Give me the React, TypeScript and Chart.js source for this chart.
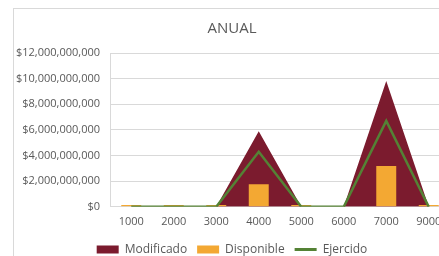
import React, { useEffect, useRef } from "react";
import { Chart, registerables } from "chart.js";

Chart.register(...registerables);

const categories = ["1000", "2000", "3000", "4000", "5000", "6000", "7000", "9000"];
const modificado = [0, 0, 0, 5.9e9, 0, 0, 9.82e9, 0];
const disponible = [0.15e9, 0.15e9, 0.15e9, 1.75e9, 0.15e9, 0, 3.18e9, 0.15e9];
const ejercido = [0, 0, 0, 4.3e9, 0, 0, 6.7e9, 0];
const yTicks = [0, 2e9, 4e9, 6e9, 8e9, 10e9, 12e9];

const MAROON = "#7B1B2E";
const ORANGE = "#F3A833";
const GREEN = "#548235";
const TEXT = "#595959";
const GRID = "#d9d9d9";
const FONT = "'Open Sans', sans-serif";

export default function App() {
  const ref = useRef<HTMLCanvasElement | null>(null);

  useEffect(() => {
    if (!ref.current) return;
    const chart = new Chart(ref.current, {
      type: "bar",
      data: {
        labels: categories,
        datasets: [
          {
            type: "line",
            label: "Modificado",
            data: modificado,
            backgroundColor: MAROON,
            borderColor: MAROON,
            borderWidth: 0,
            pointRadius: 0,
            fill: "origin",
            tension: 0,
            order: 2,
          } as any,
          {
            type: "bar",
            label: "Disponible",
            data: disponible,
            backgroundColor: ORANGE,
            borderWidth: 0,
            categoryPercentage: 0.47,
            barPercentage: 1,
            order: 1,
          },
          {
            type: "line",
            label: "Ejercido",
            data: ejercido,
            borderColor: GREEN,
            backgroundColor: GREEN,
            borderWidth: 2.5,
            pointRadius: 0,
            fill: false,
            tension: 0,
            order: 0,
          } as any,
        ],
      },
      options: {
        animation: false,
        responsive: false,
        maintainAspectRatio: false,
        layout: { padding: { left: 0, right: 0, top: 0, bottom: 3.5 } },
        plugins: {
          title: {
            display: true,
            text: "ANUAL",
            color: TEXT,
            font: { family: FONT, size: 15, weight: "normal" },
            padding: { top: 11, bottom: 15 },
          },
          tooltip: { enabled: false },
          legend: {
            position: "bottom",
            labels: {
              color: TEXT,
              font: { family: FONT, size: 12 },
              usePointStyle: true,
              pointStyleWidth: 22,
              boxHeight: 8,
              padding: 10,
              sort: (a: any, b: any) => a.datasetIndex - b.datasetIndex,
              generateLabels: (chart: any) => {
                const items = Chart.defaults.plugins.legend.labels.generateLabels(chart);
                return items.map((it: any) => {
                  if (it.text === "Ejercido") {
                    return { ...it, pointStyle: "line", strokeStyle: GREEN, lineWidth: 3 };
                  }
                  const c = it.text === "Modificado" ? MAROON : ORANGE;
                  return { ...it, pointStyle: "rect", fillStyle: c, strokeStyle: c, lineWidth: 0 };
                });
              },
            },
          },
        },
        scales: {
          x: {
            offset: true,
            grid: { display: false, drawTicks: false },
            border: { display: true, color: GRID },
            afterFit: (scale: any) => {
              scale.height = scale.height - 2.5;
            },
            ticks: {
              color: TEXT,
              font: { family: FONT, size: 11 },
              padding: 8,
              maxRotation: 0,
              autoSkip: false,
            },
          },
          y: {
            min: 0,
            max: 12e9,
            afterBuildTicks: (scale: any) => {
              scale.ticks = yTicks.map((v) => ({ value: v }));
            },
            afterFit: (scale: any) => {
              scale.width = 96;
            },
            grid: { color: GRID, lineWidth: 1, drawTicks: false },
            border: { display: true, color: GRID },
            ticks: {
              color: TEXT,
              font: { family: FONT, size: 11 },
              padding: 10,
              callback: (v: any) => "$" + Number(v).toLocaleString("en-US"),
            },
          },
        },
      },
    });
    return () => chart.destroy();
  }, []);

  return (
    <div
      style={{
        position: "fixed",
        left: 0,
        top: 0,
        width: 439,
        height: 256,
        overflow: "hidden",
        background: "#fff",
      }}
    >
      <div
        style={{
          position: "absolute",
          left: 13,
          top: 8,
          width: 438,
          height: 262,
          border: "1px solid #d9d9d9",
          boxSizing: "border-box",
        }}
      >
        <canvas
          ref={ref}
          width={436}
          height={260}
          style={{ position: "absolute", left: 0, top: 0, width: 436, height: 260 }}
        />
      </div>
    </div>
  );
}
